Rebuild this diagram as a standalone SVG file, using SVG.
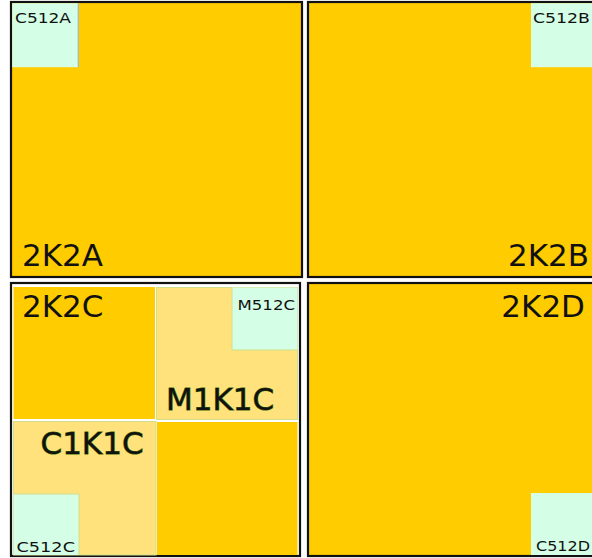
<svg xmlns="http://www.w3.org/2000/svg" width="592" height="558" viewBox="0 0 592 558">
<style>
.frame{stroke:#111;stroke-width:2.2}
.or{fill:#FFCC00}
.ly{fill:#FFE27C;stroke:#D2DE8A;stroke-width:1}
.mint{fill:#D4FFE6}
.big{font-family:"DejaVu Sans",sans-serif;font-size:31px;fill:#111}
.glow{font-family:"DejaVu Sans",sans-serif;font-size:31px;fill:#111;stroke:#3E6E00;stroke-width:0.9;paint-order:stroke}
.sm{font-family:"DejaVu Sans",sans-serif;font-size:14.5px;fill:#111}
</style>
<rect width="592" height="558" fill="#ffffff"/>
<g id="tile-2K2A">
<rect class="frame or" x="11" y="2" width="291" height="275"/>
<rect class="mint" x="12.2" y="3.2" width="66" height="64"/>
<line x1="78.2" y1="3.2" x2="78.2" y2="67.2" stroke="#8FB0E0" stroke-width="1"/>
<text class="sm" x="15" y="22.5" textLength="56" lengthAdjust="spacingAndGlyphs">C512A</text>
<text class="big" x="22" y="266">2K2A</text>
</g>
<g id="tile-2K2B">
<rect class="frame or" x="308" y="2" width="300" height="275"/>
<rect class="mint" x="531" y="3.2" width="62" height="64"/>
<text class="sm" x="533" y="23.3" textLength="57" lengthAdjust="spacingAndGlyphs">C512B</text>
<text class="big" x="589" y="266" text-anchor="end">2K2B</text>
</g>
<g id="tile-2K2C">
<rect class="frame" x="11" y="283" width="289" height="273" fill="#ffffff"/>
<rect class="or" x="13.5" y="287" width="141.5" height="132"/>
<text class="big" x="22" y="317">2K2C</text>
<rect class="or" x="157" y="422" width="140.5" height="133"/>
</g>
<g id="tile-M1K1C">
<rect class="ly" x="156.5" y="287.5" width="141" height="132"/>
<rect class="mint" x="232" y="287.5" width="65.5" height="62.5"/>
<path d="M232,287.5 V350 H297.5" fill="none" stroke="#D2DE8A" stroke-width="1"/>
<text class="sm" x="237.5" y="310" textLength="57.5" lengthAdjust="spacingAndGlyphs">M512C</text>
<text class="glow" x="166" y="410">M1K1C</text>
</g>
<g id="tile-C1K1C">
<rect class="ly" x="13.5" y="421.5" width="142.5" height="133.5"/>
<rect class="mint" x="13.5" y="494" width="65.5" height="61"/>
<path d="M13.5,494 H79 V555" fill="none" stroke="#D2DE8A" stroke-width="1"/>
<text class="sm" x="16.5" y="551.7" textLength="58.5" lengthAdjust="spacingAndGlyphs">C512C</text>
<text class="glow" x="40.5" y="454">C1K1C</text>
</g>
<g id="tile-2K2D">
<rect class="frame or" x="308" y="283" width="300" height="273"/>
<rect class="mint" x="531" y="493" width="62" height="62"/>
<text class="sm" x="536" y="551" textLength="54" lengthAdjust="spacingAndGlyphs">C512D</text>
<text class="big" x="585" y="317" text-anchor="end">2K2D</text>
</g>
<g id="connectors"></g>
</svg>
